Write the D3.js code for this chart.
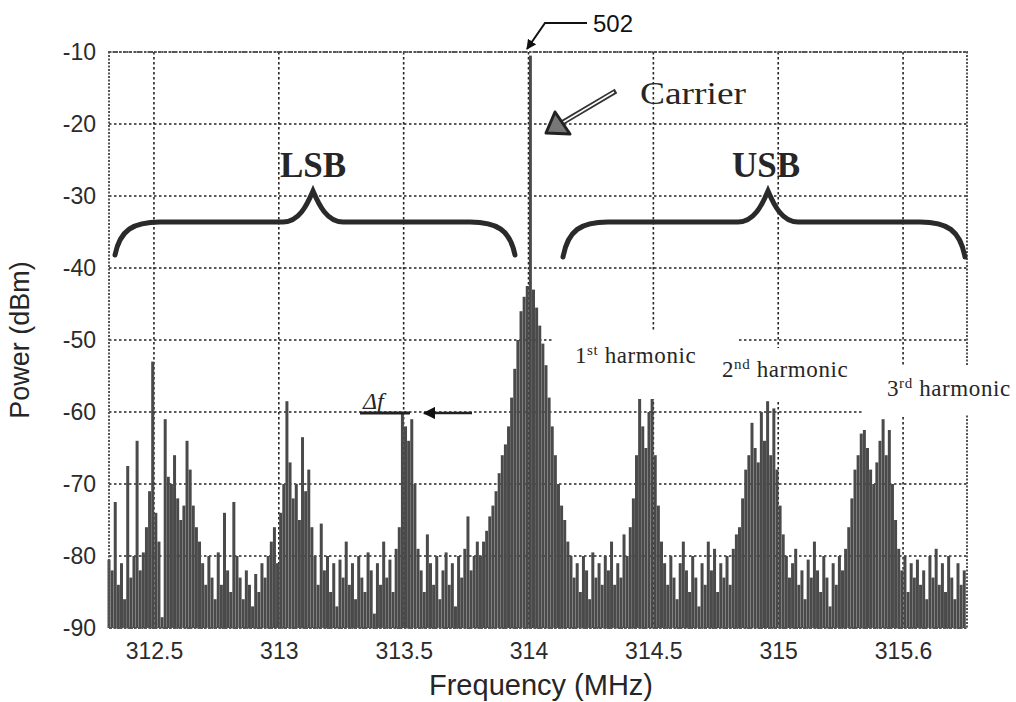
<!DOCTYPE html>
<html>
<head>
<meta charset="utf-8">
<script src="https://cdn.jsdelivr.net/npm/d3@7"></script>
<style>
  body { margin: 0; background: #fff; }
  .tick text { font-family: "Liberation Sans", Arial, sans-serif; fill: #2b2b2b; }
</style>
</head>
<body>
<div class="spectrum"></div>
<script>
var fStart = 312.32;
var fStep = 0.0125;
var powerDbm = [
  -80.5, -82, -72.5, -84, -81, -86, -67.5, -83, -80, -64, -82, -79.5, -76, -71, -53, -74, -78, -88.5, -61, -69,
  -70, -66, -72, -75, -73, -64, -68, -73, -76, -78, -81, -84, -80, -83, -86, -79.5, -84, -74, -82, -85,
  -72.5, -80, -83, -86, -82, -84, -87, -82.5, -85, -81, -83, -80, -78, -76, -81, -74, -70, -58.5, -67, -72,
  -70, -75, -63.5, -71, -68, -76, -80, -84, -75.5, -82, -80, -85, -81, -87, -80.5, -83, -78, -84, -81, -86,
  -80, -83, -85, -79.5, -82, -88, -81, -84, -78, -83, -80.5, -85, -79, -76, -60, -62, -64, -61, -70, -79,
  -82, -85, -77, -81, -84, -80, -86, -82, -79.5, -84, -81, -87, -80, -83, -79, -74.5, -82, -80, -78, -80,
  -78, -76.5, -74.5, -73, -71, -68.5, -66, -64.5, -62, -58, -54, -50, -46, -44, -42.5, -10.5, -43, -45.5, -48, -50.5,
  -53.5, -58, -62, -66, -70, -73, -75, -78, -80, -83, -81, -85, -80, -82, -86, -79.5, -83, -81, -84, -80,
  -82, -78, -84, -81, -83, -77, -80, -76, -72, -66, -58, -62, -65, -60, -57.5, -66, -73, -78, -81, -84,
  -80, -83, -86, -81, -78, -82, -85, -80, -83, -87, -81, -84, -78, -82, -79, -85, -81, -83, -80, -84,
  -79, -77, -76, -72, -68, -66, -61.5, -65, -67, -60, -64, -58.5, -66, -59.5, -68, -73, -77, -80, -83, -81,
  -79, -84, -82, -86, -80.5, -83, -78, -82, -85, -80, -83, -87, -81, -84, -80, -82, -79, -76, -72, -68,
  -66, -63, -62.5, -65, -68, -70, -67, -64, -61, -66, -62.5, -70, -75, -79, -82, -80, -85, -81, -83, -80.5,
  -84, -82, -86, -80, -83, -79, -84, -81, -85, -80, -83, -86, -81, -84, -82
];

var xTickValues = [312.5, 313, 313.5, 314, 314.5, 315, 315.5];
var xTickLabels = ["312.5", "313", "313.5", "314", "314.5", "315", "315.6"];
var yTickValues = [-10, -20, -30, -40, -50, -60, -70, -80, -90];
var yTickLabels = ["-10", "-20", "-30", "-40", "-50", "-60", "-70", "-80", "-90"];

var svgWidth = 1016;
var svgHeight = 702;

var margin = { top: 52, right: 49, bottom: 74, left: 109 };
var width = svgWidth - margin.left - margin.right;
var height = svgHeight - margin.top - margin.bottom;

var serif = "'Liberation Serif', 'Times New Roman', serif";
var sans = "'Liberation Sans', Arial, sans-serif";
var ink = "#262626";

var svg = d3.select(".spectrum")
  .append("svg")
  .attr("width", svgWidth)
  .attr("height", svgHeight);

var defs = svg.append("defs");
defs.append("marker")
  .attr("id", "head")
  .attr("viewBox", "0 0 10 10")
  .attr("refX", 9).attr("refY", 5)
  .attr("markerWidth", 5).attr("markerHeight", 5)
  .attr("markerUnits", "strokeWidth")
  .attr("orient", "auto")
  .append("path")
  .attr("d", "M0,0 L10,5 L0,10 z")
  .attr("fill", "#111");

var chartGroup = svg.append("g")
  .attr("transform", `translate(${margin.left}, ${margin.top})`);

var xScale = d3.scaleLinear()
  .domain([312.32, 315.756])
  .range([0, width]);

var yScale = d3.scaleLinear()
  .domain([-90, -10])
  .range([height, 0]);

// grid
chartGroup.append("g")
  .selectAll("line")
  .data(xTickValues)
  .enter()
  .append("line")
  .attr("x1", d => xScale(d)).attr("x2", d => xScale(d))
  .attr("y1", 0).attr("y2", height)
  .attr("stroke", ink)
  .attr("stroke-width", 1.6)
  .attr("stroke-dasharray", "2.5,2.5");

chartGroup.append("g")
  .selectAll("line")
  .data(yTickValues)
  .enter()
  .append("line")
  .attr("x1", 0).attr("x2", width)
  .attr("y1", d => yScale(d)).attr("y2", d => yScale(d))
  .attr("stroke", ink)
  .attr("stroke-width", 1.6)
  .attr("stroke-dasharray", "2.5,2.5");

// spectrum lines
var binW = xScale(fStart + fStep) - xScale(fStart);
chartGroup.append("g")
  .selectAll("rect")
  .data(powerDbm)
  .enter()
  .append("rect")
  .attr("x", (d, i) => xScale(fStart + i * fStep) - binW * 0.48)
  .attr("y", d => yScale(d))
  .attr("width", binW * 0.96)
  .attr("height", d => yScale(-90) - yScale(d))
  .attr("fill", "#4a4a4a");

// frame
chartGroup.append("rect")
  .attr("width", width)
  .attr("height", height)
  .attr("fill", "none")
  .attr("stroke", "#555")
  .attr("stroke-width", 2)
  .attr("stroke-dasharray", "2,1.5");

// axes
var bottomAxis = d3.axisBottom(xScale)
  .tickValues(xTickValues)
  .tickSize(0)
  .tickPadding(15)
  .tickFormat((d, i) => xTickLabels[i]);
var leftAxis = d3.axisLeft(yScale)
  .tickValues(yTickValues)
  .tickSize(0)
  .tickPadding(13)
  .tickFormat((d, i) => yTickLabels[i]);

chartGroup.append("g")
  .attr("transform", `translate(0, ${height})`)
  .call(bottomAxis)
  .call(g => g.select(".domain").remove())
  .selectAll("text").attr("font-size", 23);

chartGroup.append("g")
  .call(leftAxis)
  .call(g => g.select(".domain").remove())
  .selectAll("text").attr("font-size", 23);

// axis labels
chartGroup.append("text")
  .attr("transform", "rotate(-90)")
  .attr("x", 0 - 288)
  .attr("y", -80)
  .attr("text-anchor", "middle")
  .attr("font-family", sans)
  .attr("font-size", 27)
  .attr("fill", ink)
  .text("Power (dBm)");

chartGroup.append("text")
  .attr("x", 432)
  .attr("y", height + 67)
  .attr("text-anchor", "middle")
  .attr("font-family", sans)
  .attr("font-size", 29)
  .attr("fill", ink)
  .text("Frequency (MHz)");

// annotations (page coordinates)
var notes = svg.append("g");

function brace(x0, xp, x1, yEnd, yFlat, yPeak) {
  return `M${x0},${yEnd} C${x0 + 5},${yFlat + 8} ${x0 + 18},${yFlat} ${x0 + 45},${yFlat}` +
    ` L${xp - 30},${yFlat} C${xp - 14},${yFlat} ${xp - 6},${yPeak + 14} ${xp},${yPeak}` +
    ` C${xp + 6},${yPeak + 14} ${xp + 14},${yFlat} ${xp + 30},${yFlat}` +
    ` L${x1 - 45},${yFlat} C${x1 - 18},${yFlat} ${x1 - 5},${yFlat + 8} ${x1},${yEnd}`;
}

notes.append("path")
  .attr("d", brace(115, 313, 515, 255, 222, 191))
  .attr("fill", "none").attr("stroke", "#2a2a2a").attr("stroke-width", 5)
  .attr("stroke-linecap", "round");
notes.append("path")
  .attr("d", brace(563, 768, 965, 257, 222, 191))
  .attr("fill", "none").attr("stroke", "#2a2a2a").attr("stroke-width", 5)
  .attr("stroke-linecap", "round");

notes.append("text").attr("x", 313).attr("y", 177)
  .attr("text-anchor", "middle").attr("font-family", serif).attr("font-weight", "bold")
  .attr("font-size", 35).attr("fill", ink).text("LSB");
notes.append("text").attr("x", 766).attr("y", 177)
  .attr("text-anchor", "middle").attr("font-family", serif).attr("font-weight", "bold")
  .attr("font-size", 35).attr("fill", ink).text("USB");

// carrier callout
notes.append("text").attr("x", 640).attr("y", 104)
  .attr("font-family", serif).attr("font-size", 31)
  .attr("textLength", 106).attr("lengthAdjust", "spacingAndGlyphs")
  .attr("fill", ink).text("Carrier");
notes.append("line")
  .attr("x1", 616).attr("y1", 91).attr("x2", 560).attr("y2", 124)
  .attr("stroke", "#333").attr("stroke-width", 5);
notes.append("line")
  .attr("x1", 614).attr("y1", 92).attr("x2", 562).attr("y2", 123)
  .attr("stroke", "#fff").attr("stroke-width", 1.5);
notes.append("path")
  .attr("d", "M546,133 L555,112 L570,134 Z")
  .attr("fill", "#777").attr("stroke", "#222").attr("stroke-width", 3)
  .attr("stroke-linejoin", "round");

// 502 reference
notes.append("text").attr("x", 593).attr("y", 32)
  .attr("font-family", sans).attr("font-size", 24).attr("fill", "#111").text("502");
notes.append("path")
  .attr("d", "M587,23 L545,23 L527,49")
  .attr("fill", "none").attr("stroke", "#111").attr("stroke-width", 2)
  .attr("marker-end", "url(#head)");

// harmonic labels on white boxes
var boxes = [[553, 331, 184, 68], [712, 348, 150, 52], [864, 366, 152, 49]];
notes.selectAll("rect.box").data(boxes).enter().append("rect")
  .attr("class", "box")
  .attr("x", d => d[0]).attr("y", d => d[1])
  .attr("width", d => d[2]).attr("height", d => d[3])
  .attr("fill", "#fff");

var harmonics = [["1", "st", 575, 363, 122], ["2", "nd", 722, 377, 131], ["3", "rd", 887, 396, 125]];
harmonics.forEach(function(h) {
  var t = notes.append("text").attr("x", h[2]).attr("y", h[3])
    .attr("font-family", serif).attr("font-size", 23).attr("fill", ink)
    .attr("letter-spacing", 0.6);
  t.append("tspan").text(h[0]);
  t.append("tspan").attr("dy", -8).attr("font-size", 15).text(h[1]);
  t.append("tspan").attr("dy", 8).text(" harmonic");
});

// delta f marker
notes.append("text").attr("x", 363).attr("y", 409)
  .attr("font-family", serif).attr("font-style", "italic")
  .attr("font-size", 24).attr("fill", ink).text("\u0394f");
notes.append("line")
  .attr("x1", 360).attr("y1", 413).attr("x2", 410).attr("y2", 413)
  .attr("stroke", "#222").attr("stroke-width", 3);
notes.append("line")
  .attr("x1", 472).attr("y1", 413).attr("x2", 424).attr("y2", 413)
  .attr("stroke", "#222").attr("stroke-width", 2.5)
  .attr("marker-end", "url(#head)");
</script>
</body>
</html>
